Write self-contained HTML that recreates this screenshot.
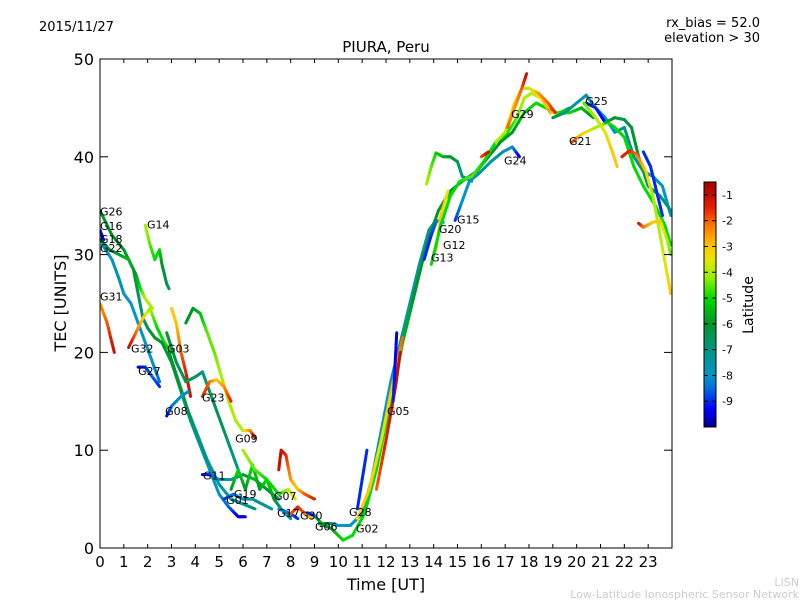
<!DOCTYPE html>
<html><head><meta charset="utf-8"><style>
body{margin:0;background:#fff;font-family:"Liberation Sans","DejaVu Sans",sans-serif}
svg text{font-family:"DejaVu Sans","Liberation Sans",sans-serif}
</style></head><body>
<svg id="chart" width="800" height="600" xmlns="http://www.w3.org/2000/svg">
<rect width="800" height="600" fill="#fff"/>
<defs><clipPath id="clip"><rect x="100" y="59" width="572" height="489"/></clipPath>
<linearGradient id="jet" x1="0" y1="1" x2="0" y2="0"></linearGradient></defs>
<g id="tracks" clip-path="url(#clip)"></g>
<rect x="100" y="59" width="572" height="489" fill="none" stroke="#000" stroke-width="1"/>
<g id="axes"></g>
<g id="labels"></g>
<text x="386" y="52" text-anchor="middle" font-size="15">PIURA, Peru</text>
<text x="386" y="590" text-anchor="middle" font-size="16">Time [UT]</text>
<text transform="translate(66,303) rotate(-90)" text-anchor="middle" font-size="16">TEC [UNITS]</text>
<text x="39" y="31" font-size="13">2015/11/27</text>
<text x="760" y="27" text-anchor="end" font-size="13">rx_bias = 52.0</text>
<text x="760" y="42" text-anchor="end" font-size="13">elevation &gt; 30</text>
<rect x="704" y="182" width="12" height="245" fill="url(#jet)" stroke="#000" stroke-width="1"/>
<g id="cbticks"></g>
<text transform="translate(753,305) rotate(-90)" text-anchor="middle" font-size="14">Latitude</text>
<text x="799" y="586" text-anchor="end" font-size="11" fill="#ccc">LISN</text>
<text x="799" y="598" text-anchor="end" font-size="11" fill="#ccc">Low-Latitude Ionospheric Sensor Network</text>
</svg>
<script>
// [time UT, TEC, latitude]
const trkG26=[[0,34.5,-6],[0.5,32,-6],[1,30.5,-6],[1.4,28.5,-6],[1.6,26,-6.5],[1.8,23.5,-7],[2.0,22.5,-6.5],[2.3,21.5,-6],[2.6,21,-6]];
const trkG16=[[0,32.5,-9.5],[0.15,31.5,-9.5]];
const trkG18=[[0,31.5,-6],[0.4,30.5,-6],[0.8,30,-6],[1.2,29.5,-5.5],[1.5,28,-6],[1.7,26.5,-5],[1.9,25.5,-4],[2.2,24.5,-4]];
const trkG22=[[0.1,31,-8],[0.5,29.5,-8],[0.8,27.5,-7.5],[1.0,26,-8],[1.3,25,-8],[1.6,23,-8],[1.9,21,-8],[2.2,19,-8],[2.5,17,-8.5]];
const trkG31=[[0,25,-2.5],[0.3,23,-2],[0.6,20,-1]];
const trkG14=[[1.9,33,-4],[2.1,31,-4.5],[2.3,29.5,-5],[2.5,30.5,-5],[2.6,29,-6],[2.8,27,-6.5],[2.9,26.5,-7]];
const trkG32=[[1.2,20.5,-1],[1.5,22,-2],[1.8,23.5,-3],[2.1,24.5,-4],[2.4,22.5,-5],[2.7,21,-5],[3.0,20,-5]];
const trkG27=[[1.6,18.5,-9.5],[1.9,18.5,-9],[2.2,17.5,-8.5],[2.5,16.5,-9]];
const trkG03=[[3.0,24.5,-3],[3.2,23,-3],[3.4,20,-2],[3.6,18,-1.5],[3.8,15.5,-1]];
const trkG09=[[3.6,23,-6],[3.9,24.5,-6],[4.2,24,-5.5],[4.5,22,-4.5],[4.8,20,-4.5],[5.1,17.5,-4],[5.4,15,-4],[5.7,13,-4],[6.0,12,-4],[6.3,12,-2.5],[6.5,11.3,-1]];
const trkG23=[[4.3,15.5,-1.5],[4.6,17,-2],[4.9,17.2,-3],[5.2,16.5,-2.5],[5.5,15,-1.5]];
const trkG23b=[[2.8,22,-6],[3.2,19,-6.5],[3.6,17,-6.5],[4.0,17.5,-6.5],[4.3,18,-7],[4.6,16,-6.5],[4.9,14,-6.5],[5.2,12,-6.5],[5.5,10,-7],[5.8,8,-7]];
const trkA=[[2.6,21,-6],[3.0,19,-6.5],[3.4,16,-7],[3.8,13,-7],[4.2,10.5,-7.5],[4.6,8,-8],[5.0,5.5,-8],[5.4,4.2,-8.5],[5.8,3.2,-9.5],[6.1,3.2,-9.5]];
const trkB=[[2.9,20,-6],[3.3,17,-6],[3.7,14,-6.5],[4.1,11.5,-7],[4.5,9,-7],[5.0,6.5,-7.5],[5.5,5,-7.5],[6.0,4.5,-7],[6.5,4,-7]];
const trkG08=[[2.8,13.5,-9.5],[3.0,14.5,-8.5],[3.4,15.5,-8],[3.7,16,-7.5]];
const trkG11=[[4.3,7.5,-9.5],[4.6,7.5,-9],[5.0,7,-8],[5.5,7,-7.5],[6.0,7.5,-6.5],[6.5,7,-5.5],[7.0,6,-6],[7.5,5,-6.5]];
const trkG19=[[5.5,6,-6],[5.8,8,-5],[6.1,6,-6],[6.4,8.5,-5],[6.7,6,-6],[7.0,7,-5],[7.3,5,-6],[7.6,4,-7],[8.0,3,-7.5]];
const trkG01=[[5.2,5,-9],[5.6,5.5,-8.5],[6.0,5,-8],[6.4,5,-7.5],[6.8,4.5,-7],[7.2,4,-7.5]];
const trkG07r=[[7.5,8,-1],[7.6,10,-1],[7.8,9.5,-1.5],[8.0,7,-2.5],[8.3,6,-3],[8.6,5.5,-2],[9.0,5,-1.5]];
const trkY=[[6.0,10,-4],[6.5,8,-4.5],[7.0,7,-5],[7.5,5.5,-5],[7.9,6,-4],[8.2,5,-3.5]];
const trkG17=[[7.5,4,-8],[8.0,3.5,-8.5],[8.3,3,-9]];
const trkG30=[[8.0,3.5,-2],[8.3,4.2,-1.5],[8.6,3.5,-2],[8.9,3,-3]];
const trkG06=[[8.7,3.6,-9],[9.0,3.3,-9],[9.3,2.5,-5],[9.7,2.5,-7],[10.0,2.3,-8],[10.5,2.3,-8],[11.0,3.5,-7.5],[11.4,7,-7.5],[11.8,12,-8],[12.2,17,-8],[12.6,21,-7.5],[13.0,25,-7.5],[13.4,29,-7.5],[13.8,32.5,-7.5],[14.1,33.5,-7.5],[14.4,33.3,-7.5]];
const trkG02=[[9.2,2.5,-6],[9.7,2,-6],[10.2,0.8,-5],[10.6,1.3,-5],[11.1,3.5,-5],[11.6,8,-5],[12.2,15,-5],[12.7,21,-5.5],[13.2,26,-6],[13.7,31,-6],[14.2,34.5,-6],[14.7,36.5,-6],[15.2,37.5,-6],[15.8,38.5,-6],[16.3,40,-6],[16.8,41.5,-6],[17.3,42.5,-6],[17.8,44.5,-5.5],[18.3,45.5,-5],[18.7,45,-5],[19.2,44.5,-5],[19.7,44.5,-5],[20.2,45,-5.5],[20.7,44,-6]];
const trkG28=[[10.8,3,-3],[11.3,6,-3],[11.8,11,-3.5],[12.3,17,-3],[12.7,21.5,-2]];
const trkG05=[[11.6,6,-2],[12.0,11,-1.5],[12.4,16.5,-1],[12.6,20,-1]];
const trkBlue1=[[10.8,4,-9],[11.2,10,-9]];
const trkBlue2=[[12.3,15,-9],[12.45,22,-9.5]];
const trkG13=[[13.6,29.5,-9],[13.9,32,-9],[14.1,33.3,-8.5]];
const trkG12=[[14.1,30.5,-3],[14.3,34,-3],[14.6,36.5,-3.5]];
const trkYG=[[13.7,37.2,-4],[13.9,39,-4.5],[14.1,40.4,-5],[14.4,40,-5.5],[14.7,40,-6],[15.0,39.5,-6.5],[15.2,38,-7],[15.6,37.5,-7]];
const trkG15=[[14.9,33.5,-9],[15.2,35.5,-8],[15.5,37.5,-8],[15.9,38.3,-7.5],[16.4,39.5,-7.5],[16.9,40.5,-7.5],[17.3,41,-8],[17.6,40,-9.5]];
const trkG20=[[13.9,29,-5],[14.3,33,-5],[14.7,36,-5],[15.1,37.5,-5],[15.6,38,-4.5],[16.1,39.5,-5],[16.6,41.5,-5],[17.1,42.5,-5],[17.5,44,-4.5],[17.8,46,-4],[18.1,46.5,-4],[18.5,46,-3.5],[18.9,44.5,-2.5],[19.3,44.5,-5],[19.7,45,-5.5]];
const trkRed1=[[16.0,40,-2],[16.3,40.5,-1]];
const trkG29=[[17.1,43,-2],[17.4,45,-2.5],[17.7,47,-2],[17.9,48.5,-1]];
const trkOr=[[16.6,41.5,-4],[17.0,42.5,-4],[17.4,45.5,-3],[17.7,47,-3.5],[18.0,47,-4],[18.4,46.5,-2.5],[18.8,45.5,-2],[19.1,44.5,-1.5]];
const trkG25=[[19.0,44,-6],[19.5,44.5,-7],[20.0,45.5,-7.5],[20.4,46.3,-7.5],[20.8,45,-8],[21.2,44,-8],[21.6,42.5,-8],[22.0,43,-7],[22.4,40,-7],[22.8,38.5,-7.5],[23.2,38,-8],[23.6,37,-8],[23.95,34,-8]];
const trkG25b=[[20.4,45.5,-9],[20.8,45,-9],[21.2,43.5,-9.5]];
const trkG21=[[19.8,41.5,-1.5],[20.2,42.3,-3],[20.8,43,-4],[21.3,43.5,-4.5],[21.6,43,-5.5]];
const trkYd=[[20.3,45.5,-4.5],[20.8,44,-4],[21.2,42.5,-3.5],[21.5,40.5,-3],[21.7,39,-3]];
const trkGr=[[21.2,43.5,-5.5],[21.6,44,-6],[22.0,43.8,-6.5],[22.3,43,-6],[22.6,40,-6],[23.0,37,-6.5],[23.5,36,-7],[23.95,34.5,-7]];
const trkGr2=[[21.6,43,-5],[22.0,42,-5],[22.4,39,-5],[22.8,37,-5],[23.3,35,-5],[23.7,33,-5],[23.95,31,-5]];
const trkR2=[[21.9,40,-1.5],[22.2,40.6,-1.5],[22.5,40.3,-2],[22.9,38.5,-3],[23.2,36,-4],[23.5,32,-4],[23.95,26,-3]];
const trkR3=[[22.6,33.2,-1],[22.8,32.8,-2],[23.2,33.3,-3],[23.5,33.5,-3],[23.8,31.5,-4],[23.95,30,-4.5]];
const trkBr=[[22.8,40.5,-9],[23.1,39,-9],[23.4,36,-9],[23.6,34,-9]];
const tracks=[trkG26,trkG16,trkG18,trkG22,trkG31,trkG14,trkG32,trkG27,trkG03,trkG09,trkG23b,trkA,trkB,trkG23,trkG08,trkG11,trkG19,trkG01,trkY,trkG07r,trkG17,trkG30,trkG06,trkG02,trkG28,trkG05,trkBlue1,trkBlue2,trkG13,trkG12,trkYG,trkG15,trkG20,trkRed1,trkOr,trkG29,trkG25,trkG25b,trkG21,trkYd,trkGr,trkGr2,trkR2,trkR3,trkBr];
const satNames=["G26","G16","G18","G22","G31","G14","G32","G27","G03","G08","G23","G09","G11","G19","G01","G07","G17","G30","G06","G28","G02","G05","G13","G12","G20","G15","G24","G29","G21","G25"];
const satT=[0,0,0,0,0,1.97,1.30,1.60,2.81,2.73,4.28,5.67,4.32,5.62,5.29,7.30,7.43,8.39,9.02,10.45,10.74,12.04,13.89,14.39,14.22,14.98,16.95,17.25,19.68,20.36];
const satV=[34.4,32.9,31.6,30.7,25.7,33.1,20.4,18.1,20.4,14.0,15.4,11.2,7.4,5.5,4.9,5.3,3.6,3.3,2.2,3.7,2.0,14.0,29.7,31.0,32.6,33.6,39.6,44.4,41.6,45.7];
const xTicks=[0,1,2,3,4,5,6,7,8,9,10,11,12,13,14,15,16,17,18,19,20,21,22,23];
const yTicks=[0,10,20,30,40,50];
const cbTicks=[-1,-2,-3,-4,-5,-6,-7,-8,-9];
// colormap stops (latitude -> rgb)
const cmapLat=[-10,-9.3,-8.5,-8,-7,-6,-5,-4.2,-3.5,-3,-2.2,-1.5,-0.5];
const cmapRGB=[[0,0,140],[0,0,255],[0,110,220],[0,150,200],[0,150,130],[0,150,40],[0,220,0],[150,240,0],[230,230,0],[255,200,0],[255,120,0],[230,30,0],[160,0,0]];

const NS="http://www.w3.org/2000/svg";
const X=t=>100+t*572/24, Y=v=>548-v*489/50;
const latMin=-10, latMax=-0.5;
const CY=l=>427-(l-latMin)/(latMax-latMin)*245;
function jet(l){
 if(l<=cmapLat[0])return `rgb(${cmapRGB[0]})`;
 for(let i=0;i<cmapLat.length-1;i++){
  if(l<=cmapLat[i+1]){const f=(l-cmapLat[i])/(cmapLat[i+1]-cmapLat[i]);
   const c=cmapRGB[i].map((v,k)=>Math.round(v+(cmapRGB[i+1][k]-v)*f));return `rgb(${c})`;}
 }
 return `rgb(${cmapRGB[cmapRGB.length-1]})`;
}
function mk(tag,attrs,parent){const e=document.createElementNS(NS,tag);for(const k in attrs)e.setAttribute(k,attrs[k]);parent.appendChild(e);return e;}
const grad=document.getElementById('jet');
cmapLat.forEach((l,i)=>{mk('stop',{offset:(l-latMin)/(latMax-latMin),'stop-color':`rgb(${cmapRGB[i]})`},grad);});
const tg=document.getElementById('tracks');
tracks.forEach((tr,i)=>{
 for(let j=0;j<tr.length-1;j++){
  const a=tr[j],b=tr[j+1];
  const steps=6;
  for(let s=0;s<steps;s++){
   const f0=s/steps,f1=(s+1)/steps;
   const ln=mk('line',{x1:X(a[0]+(b[0]-a[0])*f0),y1:Y(a[1]+(b[1]-a[1])*f0),x2:X(a[0]+(b[0]-a[0])*f1),y2:Y(a[1]+(b[1]-a[1])*f1),stroke:jet(a[2]+(b[2]-a[2])*(f0+f1)/2),'stroke-width':3,'stroke-linecap':'round'},tg);
   
   
  }
 }
});
const ax=document.getElementById('axes');
xTicks.forEach(t=>{
 mk('line',{x1:X(t),y1:548,x2:X(t),y2:544,stroke:'#000'},ax);
 mk('line',{x1:X(t),y1:59,x2:X(t),y2:63,stroke:'#000'},ax);
 const tx=mk('text',{x:X(t),y:567,'text-anchor':'middle','font-size':15},ax);tx.textContent=t;
 
 
});
yTicks.forEach(v=>{
 mk('line',{x1:100,y1:Y(v),x2:108,y2:Y(v),stroke:'#000'},ax);
 mk('line',{x1:672,y1:Y(v),x2:664,y2:Y(v),stroke:'#000'},ax);
 const tx=mk('text',{x:94,y:Y(v)+6,'text-anchor':'end','font-size':16},ax);tx.textContent=v;
 
 
});
const cb=document.getElementById('cbticks');
cbTicks.forEach(l=>{
 mk('line',{x1:704,y1:CY(l),x2:708,y2:CY(l),stroke:'#000'},cb);
 mk('line',{x1:716,y1:CY(l),x2:712,y2:CY(l),stroke:'#000'},cb);
 const tx=mk('text',{x:722,y:CY(l)+4,'font-size':11},cb);tx.textContent=l;
 
 
});
const lg=document.getElementById('labels');
satNames.forEach((n,i)=>{
 const tx=mk('text',{x:X(satT[i]),y:Y(satV[i])+4,'font-size':11},lg);tx.textContent=n;
 
 
});
</script>
</body></html>
